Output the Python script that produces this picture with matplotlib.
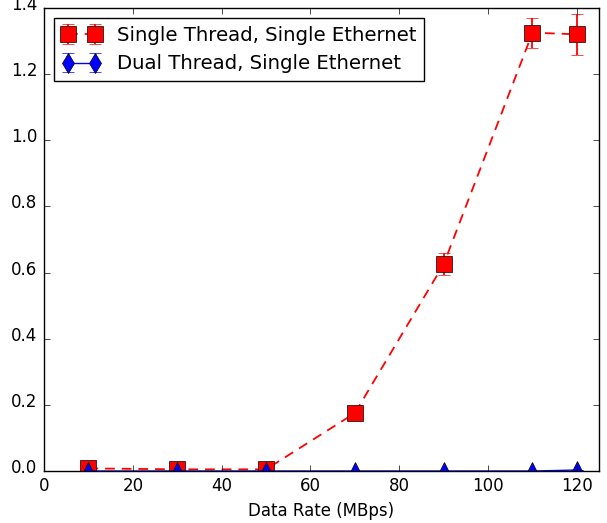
import matplotlib
matplotlib.use('Agg')
import matplotlib.pyplot as plt
from matplotlib.transforms import ScaledTranslation

plt.style.use('classic')
plt.rcParams['lines.scale_dashes'] = False

rates = [10, 30, 50, 70, 90, 110, 120]
single_y = [0.008, 0.005, 0.005, 0.175, 0.625, 1.325, 1.320]
single_err = [0.004, 0.003, 0.003, 0.008, 0.033, 0.045, 0.062]
dual_y = [0.0, 0.0, 0.0, 0.0, 0.0, 0.0, 0.003]
dual_err = [0.001, 0.001, 0.001, 0.001, 0.001, 0.001, 0.001]

fig = plt.figure(figsize=(6.07, 5.23), dpi=100)
ax = fig.add_axes([0.0725, 0.0994, 0.9145, 0.8856])

ax.errorbar(rates, single_y, yerr=single_err, fmt='s', linestyle='--',
            dashes=(7, 5), lw=1.3, color='red', ecolor='red', mec='black',
            mfc='red', markersize=11, capsize=4,
            label='Single Thread, Single Ethernet')
eb = ax.errorbar(rates, dual_y, yerr=dual_err, fmt='d-', color='blue',
                 ecolor='blue', mec='black', mfc='blue', markersize=10,
                 capsize=4, label='Dual Thread, Single Ethernet')

ax.set_xlim(0, 125)
ax.set_ylim(0, 1.4)
ax.set_yticks([0.0, 0.2, 0.4, 0.6, 0.8, 1.0, 1.2, 1.4])
ax.set_xlabel('Data Rate (MBps)')
ax.legend(loc='upper left', numpoints=2, fontsize=14.2)

# legend keeps the diamond, the data uses triangles
eb[0].set_marker('^')
eb[0].set_markersize(13)

for lbl in ax.get_yticklabels():
    lbl.set_transform(lbl.get_transform() +
                      ScaledTranslation(-1 / 100, 3 / 100, fig.dpi_scale_trans))

fig.savefig('out.png', dpi=100)
